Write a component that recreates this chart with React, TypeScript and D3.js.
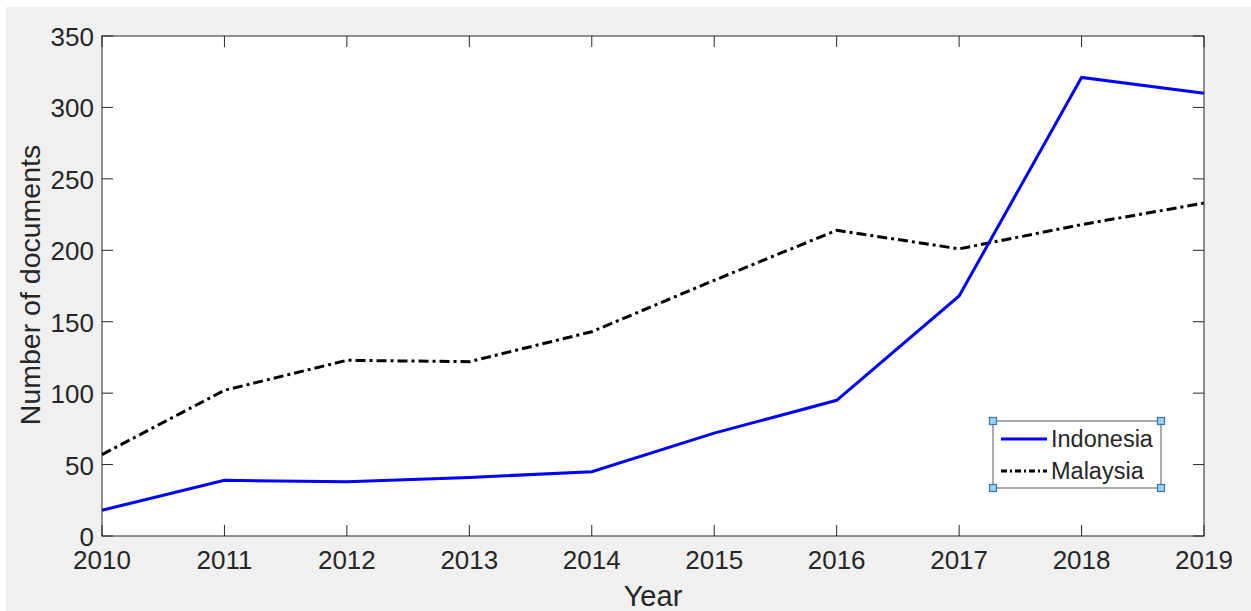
import React, { useEffect, useRef } from "react";
import * as d3 from "d3";

const years = [2010, 2011, 2012, 2013, 2014, 2015, 2016, 2017, 2018, 2019];
const indonesia = [18, 39, 38, 41, 45, 72, 95, 168, 321, 310];
const malaysia = [57, 102, 123, 122, 143, 179, 214, 201, 218, 233];
const yTicks = [0, 50, 100, 150, 200, 250, 300, 350];
const seriesNames = ["Indonesia", "Malaysia"];

const W = 1251;
const H = 611;

const App: React.FC = () => {
  const ref = useRef<SVGSVGElement | null>(null);

  useEffect(() => {
    if (!ref.current) return;
    const svg = d3.select(ref.current);
    svg.selectAll("*").remove();

    const margin = { top: 36, right: 47, bottom: 75, left: 102 };
    const iw = W - margin.left - margin.right;
    const ih = H - margin.top - margin.bottom;
    const font = "'Liberation Sans', Arial, sans-serif";
    const axisColor = "#262626";

    // figure background
    svg.append("rect").attr("width", W).attr("height", H).attr("fill", "#fff");
    svg.append("rect").attr("x", 6).attr("y", 7).attr("width", W - 6).attr("height", H - 7).attr("fill", "#f0f0f0");

    const x = d3.scaleLinear().domain([2010, 2019]).range([0, iw]);
    const y = d3.scaleLinear().domain([0, 350]).range([ih, 0]);

    const g = svg.append("g").attr("transform", `translate(${margin.left},${margin.top})`);
    g.append("rect").attr("width", iw).attr("height", ih).attr("fill", "#fff");

    const tickLen = 11;
    // ticks (inward, all four sides)
    years.forEach((yr) => {
      const px = x(yr);
      g.append("line").attr("x1", px).attr("x2", px).attr("y1", ih).attr("y2", ih - tickLen)
        .attr("stroke", axisColor).attr("stroke-width", 1);
      g.append("line").attr("x1", px).attr("x2", px).attr("y1", 0).attr("y2", tickLen)
        .attr("stroke", axisColor).attr("stroke-width", 1);
      g.append("text").attr("x", px).attr("y", ih + 33).attr("text-anchor", "middle")
        .style("font-family", font).style("font-size", "26px").attr("fill", axisColor).text(yr);
    });
    yTicks.forEach((t) => {
      const py = y(t);
      g.append("line").attr("x1", 0).attr("x2", tickLen).attr("y1", py).attr("y2", py)
        .attr("stroke", axisColor).attr("stroke-width", 1);
      g.append("line").attr("x1", iw).attr("x2", iw - tickLen).attr("y1", py).attr("y2", py)
        .attr("stroke", axisColor).attr("stroke-width", 1);
      g.append("text").attr("x", -8).attr("y", py + 10).attr("text-anchor", "end")
        .style("font-family", font).style("font-size", "26px").attr("fill", axisColor).text(t);
    });

    const line = d3.line<number>().x((_, i) => x(years[i])).y((d) => y(d));

    g.append("path").datum(malaysia).attr("d", line).attr("fill", "none")
      .attr("stroke", "#000").attr("stroke-width", 3).attr("stroke-dasharray", "10,4,3,4");
    g.append("path").datum(indonesia).attr("d", line).attr("fill", "none")
      .attr("stroke", "#0000ff").attr("stroke-width", 3);

    // axes box
    g.append("rect").attr("width", iw).attr("height", ih).attr("fill", "none")
      .attr("stroke", axisColor).attr("stroke-width", 1);

    // axis labels
    svg.append("text").attr("x", margin.left + iw / 2).attr("y", 606).attr("text-anchor", "middle")
      .style("font-family", font).style("font-size", "29px").attr("fill", axisColor).text("Year");
    svg.append("text").attr("transform", `translate(40,285) rotate(-90)`)
      .attr("text-anchor", "middle")
      .style("font-family", font).style("font-size", "28.5px").attr("fill", axisColor).text("Number of documents");

    // legend
    const lx = 993, ly = 421, lw = 168, lh = 67;
    const leg = svg.append("g");
    leg.append("rect").attr("x", lx).attr("y", ly).attr("width", lw).attr("height", lh)
      .attr("fill", "#fff").attr("stroke", "#555").attr("stroke-width", 1);
    const styles = [
      { color: "#0000ff", dash: null },
      { color: "#000", dash: "6,3,2,3" },
    ];
    seriesNames.forEach((name, i) => {
      const cy = ly + 18 + i * 32;
      const l = leg.append("line").attr("x1", lx + 8).attr("x2", lx + 54).attr("y1", cy).attr("y2", cy)
        .attr("stroke", styles[i].color).attr("stroke-width", 3);
      if (styles[i].dash) l.attr("stroke-dasharray", styles[i].dash);
      leg.append("text").attr("x", lx + 58).attr("y", cy + 7.5)
        .style("font-family", font).style("font-size", "23.5px").attr("fill", axisColor).text(name);
    });
    // selection handles
    [[lx, ly], [lx + lw, ly], [lx, ly + lh], [lx + lw, ly + lh]].forEach(([hx, hy]) => {
      leg.append("rect").attr("x", hx - 3.5).attr("y", hy - 3.5).attr("width", 7).attr("height", 7)
        .attr("fill", "#9fd0ef").attr("stroke", "#2a7ab8").attr("stroke-width", 1.2);
    });
  }, []);

  return (
    <svg ref={ref} width={W} height={H} style={{ position: "absolute", left: 0, top: 0 }}></svg>
  );
};

export default App;
